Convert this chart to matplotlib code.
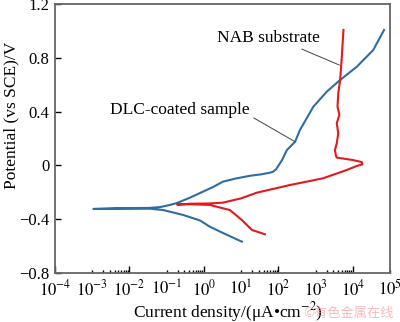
import matplotlib
matplotlib.use("Agg")
import matplotlib.pyplot as plt
from matplotlib.ticker import FixedLocator, FuncFormatter, NullFormatter
import numpy as np

plt.rcParams['font.family'] = ['Liberation Serif', 'DejaVu Serif']
plt.rcParams['mathtext.fontset'] = 'stix'

# DLC-coated sample: cathodic branch (end -> Ecorr tip), then anodic branch
dlc_logi = [1.02, 0.57, 0.16, -0.10, -0.55, -1.09, -1.45, -2.20, -2.97,
            -2.20, -1.45, -1.18, -0.91, -0.73, -0.40, -0.10, 0.25, 0.51, 0.85, 1.24, 1.55, 1.78,
            1.86, 1.94, 2.10, 2.23, 2.45, 2.58, 2.94, 3.30, 3.66, 4.11, 4.55, 4.84]
dlc_e = [-0.567, -0.510, -0.456, -0.410, -0.369, -0.332, -0.322, -0.322, -0.324,
         -0.318, -0.316, -0.310, -0.294, -0.280, -0.243, -0.205, -0.160, -0.121, -0.098, -0.077, -0.066, -0.054,
         -0.047, -0.029, 0.040, 0.114, 0.176, 0.263, 0.436, 0.548, 0.635, 0.734, 0.858, 1.007]

# NAB substrate
nab_logi = [1.64, 1.29, 1.02, 0.70, 0.16, -0.37, -0.72,
            -0.37, 0.16, 0.51, 1.00, 1.42, 2.31, 3.20, 3.84, 4.10, 4.26, 4.24,
            4.00, 3.57, 3.55, 3.52, 3.57, 3.61, 3.57, 3.64, 3.59, 3.61, 3.66, 3.70, 3.75]
nab_e = [-0.512, -0.480, -0.406, -0.332, -0.294, -0.289, -0.291,
         -0.285, -0.283, -0.277, -0.245, -0.203, -0.146, -0.096, -0.034, -0.005, 0.008, 0.025,
         0.040, 0.058, 0.070, 0.114, 0.164, 0.239, 0.313, 0.375, 0.436, 0.536, 0.635, 0.784, 1.007]

x_decades = list(range(-4, 6))
y_ticks = [-0.8, -0.4, 0, 0.4, 0.8, 1.2]
y_labels = ['\u22120.8', '\u22120.4', '0', '0.4', '0.8', '1.2']

fig = plt.figure(figsize=(4, 3.22), dpi=100)
ax = fig.add_axes([55 / 400, 1 - 273 / 322, 335 / 400, 269 / 322])

ax.plot(np.power(10.0, dlc_logi), dlc_e, color='#2e6da4', lw=1.5, solid_joinstyle='round')
ax.plot(np.power(10.0, nab_logi), nab_e, color='#e31a1c', lw=1.5, solid_joinstyle='round')

ax.set_xscale('log')
ax.set_xlim(1e-4, 1e5)
ax.set_ylim(-0.8, 1.2)

# even decades get the long ticks, odd decades carry the minor ticks
major = [10.0 ** d for d in x_decades if d % 2 == 0]
minor = []
for d in x_decades:
    if d % 2 != 0:
        minor.append(10.0 ** d)
        if d < 5:
            minor += [m * 10.0 ** d for m in range(2, 10)]
ax.xaxis.set_major_locator(FixedLocator(major))
ax.xaxis.set_minor_locator(FixedLocator(minor))

def dec_fmt(v, pos):
    e = np.log10(v)
    if abs(e - round(e)) > 1e-6:
        return ''
    return r'$10^{%d}$' % round(e)

ax.xaxis.set_major_formatter(FuncFormatter(dec_fmt))
ax.xaxis.set_minor_formatter(FuncFormatter(dec_fmt))
ax.yaxis.set_major_locator(FixedLocator(y_ticks))
ax.set_yticklabels(y_labels)
ax.yaxis.set_minor_formatter(NullFormatter())

ax.tick_params(axis='x', which='major', direction='in', length=5, width=1, labelsize=12, pad=4.5)
ax.tick_params(axis='x', which='minor', direction='in', length=2.5, width=1, labelsize=12, pad=4.5)
ax.tick_params(axis='y', which='major', direction='in', length=4, width=1, labelsize=12, pad=4)
ax.tick_params(top=False, right=False)
for s in ax.spines.values():
    s.set_color('#666666')
    s.set_linewidth(1.3)

fig.text(11 / 400, 1 - 115 / 322, 'Potential (vs SCE)/V', rotation=90,
         ha='center', va='center', fontsize=12.5)
fig.text(228 / 400, 1 - 312 / 322, 'Current density/(\u03bcA\u2022cm$^{-2}$)',
         ha='center', va='center', fontsize=12.5)

ax.annotate('DLC-coated sample', xy=(10 ** 2.45, 0.176), xytext=(10 ** -2.52, 0.412),
            ha='left', va='center', fontsize=12.5,
            arrowprops=dict(arrowstyle='-', color='#444444', lw=0.7,
                            relpos=(1.0, 0.15), shrinkA=1, shrinkB=0))
ax.annotate('NAB substrate', xy=(10 ** 3.64, 0.746), xytext=(10 ** 0.34, 0.945),
            ha='left', va='center', fontsize=12.5,
            arrowprops=dict(arrowstyle='-', color='#444444', lw=0.7,
                            relpos=(0.82, -0.15), shrinkA=0, shrinkB=0))

fig.text(349 / 400, 1 - 313 / 322, '\u00a9\u6709\u8272\u91d1\u5c5e\u5728\u7ebf',
         family=['Noto Sans CJK SC', 'DejaVu Sans'], fontsize=9.5,
         color='#f2a0a0', alpha=0.7, ha='center', va='center')

fig.savefig('out.png', dpi=100)
